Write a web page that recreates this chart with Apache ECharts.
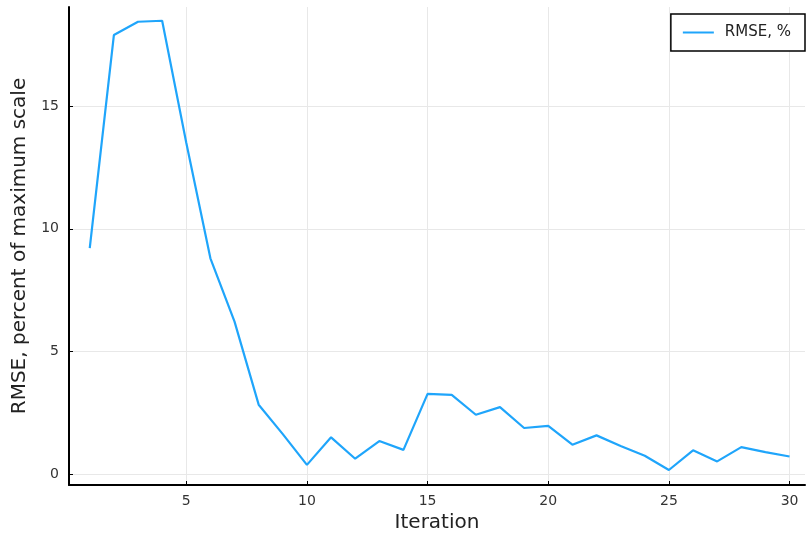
<!DOCTYPE html>
<html><head><meta charset="utf-8">
<script src="https://cdn.jsdelivr.net/npm/echarts@6/dist/echarts.min.js"></script>
<style>html,body{margin:0;padding:0;background:#fff}#c{width:806px;height:540px}</style>
</head><body><div id="c"></div>
<script>
const iterations = [1,2,3,4,5,6,7,8,9,10,11,12,13,14,15,16,17,18,19,20,21,22,23,24,25,26,27,28,29,30];
const rmse = [9.21,17.89,18.43,18.47,13.5,8.8,6.22,2.84,1.64,0.39,1.51,0.64,1.36,1.0,3.28,3.24,2.43,2.74,1.89,1.98,1.21,1.59,1.16,0.76,0.18,0.98,0.53,1.11,0.91,0.73];
const xTicks = [5,10,15,20,25,30];
const yTicks = [0,5,10,15];
const seriesName = 'RMSE, %';

const font = 'DejaVu Sans';
const chart = echarts.init(document.getElementById('c'), null, {renderer:'canvas'});
chart.setOption({
  animation:false,
  grid:{left:69, right:1, top:7, bottom:55, containLabel:false, outerBoundsMode:'none'},
  legend:{
    top:14, right:1, orient:'horizontal',
    padding:[11,14,11,12],
    borderColor:'#000', borderWidth:1.5, borderRadius:0,
    backgroundColor:'#fff',
    itemWidth:31, itemHeight:2, itemGap:10,
    textStyle:{fontFamily:font, fontSize:15, color:'#222', padding:[0,0,0,6]},
    data:[{name:seriesName, icon:'rect'}]
  },
  xAxis:{
    type:'value', min:0.14, max:30.64,
    name:'Iteration', nameLocation:'middle', nameGap:28,
    nameTextStyle:{fontFamily:font, fontSize:20, color:'#222'},
    axisLine:{show:true, onZero:false, lineStyle:{color:'#000', width:2}},
    axisTick:{show:true, inside:true, length:4, customValues:xTicks, lineStyle:{color:'#000'}},
    axisLabel:{customValues:xTicks, fontFamily:font, fontSize:14, color:'#333', margin:9},
    splitLine:{show:true, lineStyle:{color:'#e8e8e8', width:1}}
  },
  yAxis:{
    type:'value', min:-0.43, max:19.03,
    name:'RMSE, percent of maximum scale', nameLocation:'middle', nameGap:35,
    nameTextStyle:{fontFamily:font, fontSize:20, color:'#222'},
    axisLine:{show:true, onZero:false, lineStyle:{color:'#000', width:2}},
    axisTick:{show:true, inside:true, length:4, customValues:yTicks, lineStyle:{color:'#000'}},
    axisLabel:{customValues:yTicks, fontFamily:font, fontSize:14, color:'#333', margin:10},
    splitLine:{show:true, lineStyle:{color:'#e8e8e8', width:1}}
  },
  series:[{
    name:seriesName, type:'line',
    data: iterations.map((x,i)=>[x, rmse[i]]),
    showSymbol:false, symbol:'none',
    lineStyle:{color:'#1fa5fb', width:2.2},
    itemStyle:{color:'#1fa5fb'}
  }]
});
</script></body></html>
